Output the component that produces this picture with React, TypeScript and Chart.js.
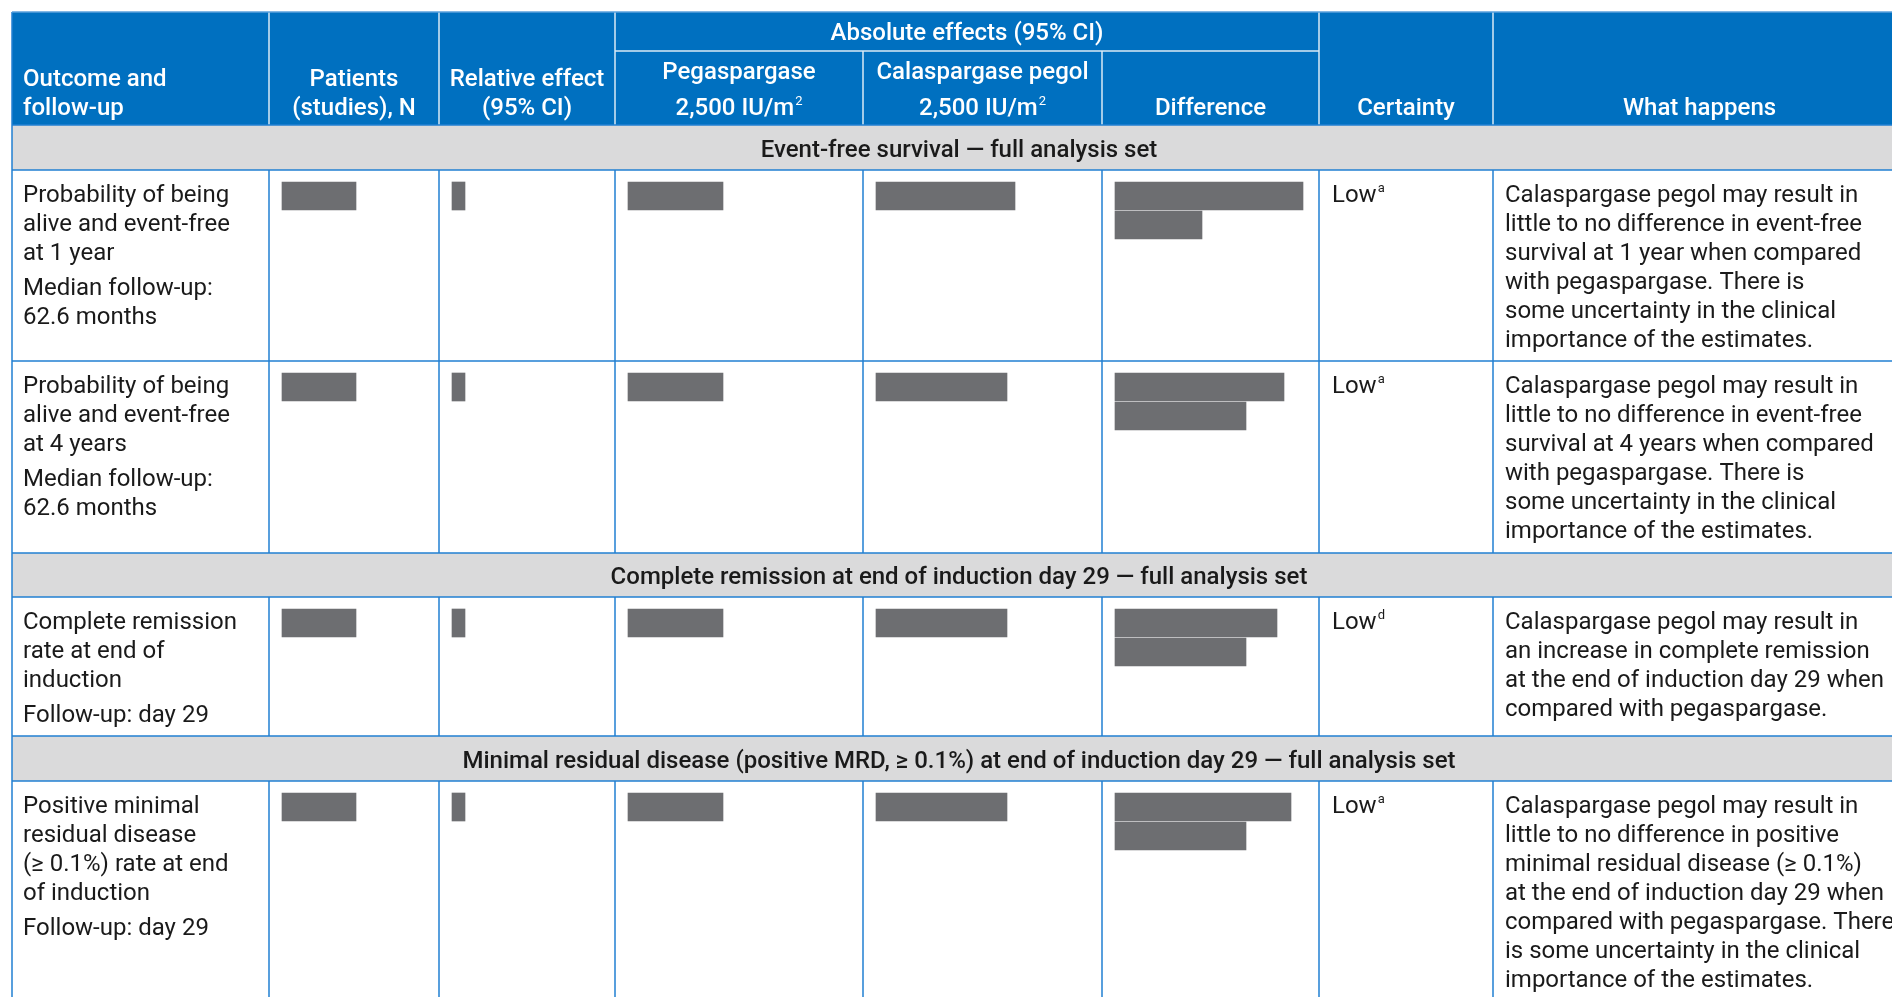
import React, { useEffect, useRef } from "react";
import { Chart, registerables } from "chart.js";
Chart.register(...registerables);

const W = 1892;
const H = 997;
const FONT = "Roboto, 'Noto Sans', sans-serif";

// ---------- data ----------
const headerGroup = "Absolute effects (95% CI)";
const headerCols = [
  ["Outcome and", "follow-up"],
  ["Patients", "(studies), N"],
  ["Relative effect", "(95% CI)"],
  ["Pegaspargase", "2,500 IU/m|2"],
  ["Calaspargase pegol", "2,500 IU/m|2"],
  ["Difference"],
  ["Certainty"],
  ["What happens"],
];
const sections = [
  "Event-free survival — full analysis set",
  "Complete remission at end of induction day 29 — full analysis set",
  "Minimal residual disease (positive MRD, ≥ 0.1%) at end of induction day 29 — full analysis set",
];
const outcomeText = [
  [["Probability of being", "alive and event-free", "at 1 year"], ["Median follow-up:", "62.6 months"]],
  [["Probability of being", "alive and event-free", "at 4 years"], ["Median follow-up:", "62.6 months"]],
  [["Complete remission", "rate at end of", "induction"], ["Follow-up: day 29"]],
  [["Positive minimal", "residual disease", "(≥ 0.1%) rate at end", "of induction"], ["Follow-up: day 29"]],
];
const outcomeSection = [0, 0, 1, 2];
const certainty = ["Low", "Low", "Low", "Low"];
const certaintyNote = ["a", "a", "d", "a"];
const whatHappens = [
  ["Calaspargase pegol may result in", "little to no difference in event-free", "survival at 1 year when compared", "with pegaspargase. There is", "some uncertainty in the clinical", "importance of the estimates."],
  ["Calaspargase pegol may result in", "little to no difference in event-free", "survival at 4 years when compared", "with pegaspargase. There is", "some uncertainty in the clinical", "importance of the estimates."],
  ["Calaspargase pegol may result in", "an increase in complete remission", "at the end of induction day 29 when", "compared with pegaspargase."],
  ["Calaspargase pegol may result in", "little to no difference in positive", "minimal residual disease (≥ 0.1%)", "at the end of induction day 29 when", "compared with pegaspargase. There", "is some uncertainty in the clinical", "importance of the estimates."],
];
// redacted cell lengths (px)
const patientsRedact = [74, 74, 74, 74];
const relativeRedact = [13, 13, 13, 13];
const pegRedact = [95, 95, 95, 95];
const calRedact = [139, 131, 131, 131];
const diffRedact1 = [188, 169, 162, 176];
const diffRedact2 = [87, 131, 131, 131];

// ---------- layout ----------
const colEdges = [12, 269, 439, 615, 863, 1102, 1319, 1493, 1906];
const tableTop = 12;
const headerBottom = 125;
const subHeaderLine = 51;
const sectionHeights = [45, 44, 45];
const outcomeHeights = [191, 192, 139, 260];
const lineH = 29;
const paraGap = 6;
const firstLineOffset = 26;
const cellPad = 13;
const barH = 28;
const barTopOffset = 12;
const FS = 24;
const TY = 3; // text vertical nudge

const BLUE = "#0070c0";
const BORDER = "#2280d2";
const GRAY = "#dadadb";
const TEXT = "#1a1a1a";
const REDACT = "#6d6e71";

type RowBox = { kind: "section" | "outcome"; idx: number; top: number; bottom: number };
function buildRows(): RowBox[] {
  const rows: RowBox[] = [];
  let y = headerBottom;
  let lastSection = -1;
  outcomeText.forEach((_, i) => {
    const s = outcomeSection[i];
    if (s !== lastSection) {
      rows.push({ kind: "section", idx: s, top: y, bottom: y + sectionHeights[s] });
      y += sectionHeights[s];
      lastSection = s;
    }
    rows.push({ kind: "outcome", idx: i, top: y, bottom: y + outcomeHeights[i] });
    y += outcomeHeights[i];
  });
  return rows;
}
const ROWS = buildRows();

function buildBars() {
  const pts: { x: [number, number]; y: number }[] = [];
  ROWS.filter((r) => r.kind === "outcome").forEach((r) => {
    const i = r.idx;
    const y1 = r.top + barTopOffset + barH / 2;
    const y2 = y1 + barH + 1;
    const add = (col: number, len: number, yc: number) => {
      const x0 = colEdges[col] + cellPad;
      pts.push({ x: [x0, x0 + len], y: yc });
    };
    add(1, patientsRedact[i], y1);
    add(2, relativeRedact[i], y1);
    add(3, pegRedact[i], y1);
    add(4, calRedact[i], y1);
    add(5, diffRedact1[i], y1);
    add(5, diffRedact2[i], y2);
  });
  return pts;
}

function drawSup(ctx: CanvasRenderingContext2D, text: string, x: number, y: number, size: number, weight: string, align: "left" | "center") {
  const [main, sup] = text.split("|");
  const ss = Math.round(size * 0.55);
  ctx.font = `${weight} ${size}px ${FONT}`;
  const mw = ctx.measureText(main).width;
  ctx.font = `400 ${ss}px ${FONT}`;
  const sw = sup ? ctx.measureText(sup).width + 1 : 0;
  const total = mw + sw;
  const x0 = align === "center" ? x - total / 2 : x;
  ctx.textAlign = "left";
  ctx.font = `${weight} ${size}px ${FONT}`;
  ctx.fillText(main, x0, y);
  if (sup) {
    ctx.font = `400 ${ss}px ${FONT}`;
    ctx.fillText(sup, x0 + mw + 1, y - size * 0.3);
  }
}

const tablePlugin = {
  id: "tablePlugin",
  beforeDatasetsDraw(chart: any) {
    const ctx: CanvasRenderingContext2D = chart.ctx;
    const xs = chart.scales.x;
    const ys = chart.scales.y;
    const px = (v: number) => xs.getPixelForValue(v);
    const py = (v: number) => ys.getPixelForValue(v);
    const L = px(colEdges[0]);
    const R = px(colEdges[colEdges.length - 1]);
    ctx.save();
    ctx.fillStyle = BLUE;
    ctx.fillRect(L, py(tableTop), R - L, py(headerBottom) - py(tableTop));
    ROWS.forEach((r) => {
      if (r.kind === "section") {
        ctx.fillStyle = GRAY;
        ctx.fillRect(L, py(r.top), R - L, py(r.bottom) - py(r.top));
      }
    });
    ctx.strokeStyle = "rgba(255,255,255,0.85)";
    ctx.lineWidth = 1.5;
    ctx.beginPath();
    [1, 2, 3, 6, 7].forEach((c) => {
      ctx.moveTo(px(colEdges[c]), py(tableTop));
      ctx.lineTo(px(colEdges[c]), py(headerBottom));
    });
    [4, 5].forEach((c) => {
      ctx.moveTo(px(colEdges[c]), py(subHeaderLine));
      ctx.lineTo(px(colEdges[c]), py(headerBottom));
    });
    ctx.moveTo(px(colEdges[3]), py(subHeaderLine));
    ctx.lineTo(px(colEdges[6]), py(subHeaderLine));
    ctx.stroke();
    ctx.strokeStyle = BORDER;
    ctx.lineWidth = 1.5;
    ctx.beginPath();
    ROWS.forEach((r) => {
      ctx.moveTo(L, py(r.top));
      ctx.lineTo(R, py(r.top));
      ctx.moveTo(L, py(r.bottom));
      ctx.lineTo(R, py(r.bottom));
      if (r.kind === "outcome") {
        colEdges.slice(1, -1).forEach((c) => {
          ctx.moveTo(px(c), py(r.top));
          ctx.lineTo(px(c), py(r.bottom));
        });
      }
    });
    ctx.moveTo(L, py(tableTop));
    ctx.lineTo(L, py(ROWS[ROWS.length - 1].bottom));
    ctx.stroke();
    ctx.strokeStyle = "#5aa0dc";
    ctx.lineWidth = 1.5;
    ctx.beginPath();
    ctx.moveTo(L, py(tableTop));
    ctx.lineTo(R, py(tableTop));
    ctx.stroke();
    ctx.restore();
  },
  afterDatasetsDraw(chart: any) {
    const ctx: CanvasRenderingContext2D = chart.ctx;
    const xs = chart.scales.x;
    const ys = chart.scales.y;
    const px = (v: number) => xs.getPixelForValue(v);
    const py = (v: number) => ys.getPixelForValue(v);
    ctx.save();
    ctx.textBaseline = "middle";
    const size = FS;
    ctx.fillStyle = "#ffffff";
    const w = "500";
    const l2 = 106 + TY;
    const l1 = 77 + TY;
    ctx.font = `${w} ${size}px ${FONT}`;
    ctx.textAlign = "center";
    ctx.fillText(headerGroup, px((colEdges[3] + colEdges[6]) / 2), py(31 + TY));
    headerCols.forEach((lines, c) => {
      const cx = (colEdges[c] + colEdges[c + 1]) / 2;
      const ylist = lines.length === 2 ? [c >= 3 && c <= 4 ? 70 + TY : l1, l2] : [l2];
      lines.forEach((t, k) => {
        if (c === 0) drawSup(ctx, t, px(colEdges[0] + 11), py(ylist[k]), size, w, "left");
        else drawSup(ctx, t, px(cx), py(ylist[k]), size, w, "center");
      });
    });
    const mid = (colEdges[0] + colEdges[colEdges.length - 1]) / 2;
    ROWS.forEach((r) => {
      if (r.kind === "section") {
        ctx.fillStyle = TEXT;
        ctx.font = `500 ${size}px ${FONT}`;
        ctx.textAlign = "center";
        ctx.fillText(sections[r.idx], px(mid), py((r.top + r.bottom) / 2 + TY));
      } else {
        const i = r.idx;
        ctx.fillStyle = TEXT;
        ctx.font = `400 ${size}px ${FONT}`;
        ctx.textAlign = "left";
        let y = r.top + firstLineOffset;
        outcomeText[i].forEach((para, pi) => {
          if (pi > 0) y += paraGap;
          para.forEach((t) => {
            ctx.fillText(t, px(colEdges[0] + 11), py(y));
            y += lineH;
          });
        });
        drawSup(ctx, certainty[i] + "|" + certaintyNote[i], px(colEdges[6] + cellPad), py(r.top + firstLineOffset), size, "400", "left");
        ctx.font = `400 ${size}px ${FONT}`;
        ctx.textAlign = "left";
        whatHappens[i].forEach((t, k) => {
          ctx.fillText(t, px(colEdges[7] + 12), py(r.top + firstLineOffset + k * lineH));
        });
      }
    });
    ctx.restore();
  },
};

export default function App() {
  const ref = useRef<HTMLCanvasElement | null>(null);
  useEffect(() => {
    if (!ref.current) return;
    const chart = new Chart(ref.current, {
      type: "bar",
      data: {
        datasets: [
          {
            data: buildBars() as any,
            backgroundColor: REDACT,
            borderWidth: 0,
            barThickness: barH,
          } as any,
        ],
      },
      options: {
        indexAxis: "y",
        animation: false,
        responsive: true,
        maintainAspectRatio: false,
        layout: { padding: 0 },
        scales: {
          x: { type: "linear", min: 0, max: W, display: false, offset: false },
          y: { type: "linear", min: 0, max: H, reverse: true, display: false, offset: false },
        },
        plugins: { legend: { display: false }, tooltip: { enabled: false } },
      },
      plugins: [tablePlugin],
    });
    return () => chart.destroy();
  }, []);
  return (
    <div style={{ position: "fixed", left: 0, top: 0, width: W, height: H, background: "#fff" }}>
      <canvas ref={ref} />
    </div>
  );
}
